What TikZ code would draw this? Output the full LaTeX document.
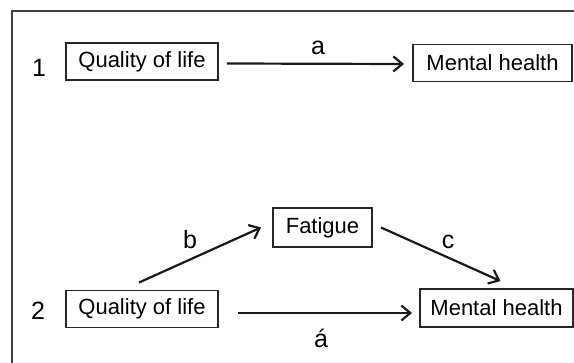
\documentclass[tikz,border=0pt]{standalone}
\usepackage{fontspec}
\setmainfont{Liberation Sans}
\usetikzlibrary{arrows.meta}
\begin{document}
\begin{tikzpicture}[x=1pt,y=-1pt,
  every node/.style={font=\fontsize{22}{24}\selectfont, inner sep=0pt},
  varbox/.style={draw=black!85, line width=1.9pt, minimum height=37pt},
  link/.style={line width=2.2pt, draw=black!90,
    -{Straight Barb[length=9pt,width=15pt,line width=2.2pt]}},
  tag/.style={text=black, font=\fontsize{25}{28}\selectfont},
  path label/.style={text=black, font=\fontsize{25}{28}\selectfont}]
  \useasboundingbox (0,0) rectangle (574,363);
  % outer frame, running past the page edge on the right and bottom
  \draw[line width=2.2pt, draw=black!75] (12,380) -- (12,11) -- (590,11);

  % model 1
  \node[tag] (n1) at (39,67.5) {1};
  \node[varbox, minimum width=152pt] (q1) at (142,61.5) {Quality of life};
  \node[varbox, minimum width=159pt] (m1) at (492.5,63) {Mental health};
  \draw[link] ([xshift=8pt,yshift=-2pt]q1.east) -- ([xshift=-8pt,yshift=-1pt]m1.west);
  \node[path label] (la) at (318,47.5) {a};

  % model 2
  \node[tag] (n2) at (38,311) {2};
  \node[varbox, minimum width=152pt] (q2) at (142,309) {Quality of life};
  \node[varbox, minimum width=99pt, minimum height=39pt] (f) at (322.5,227.5) {Fatigue};
  \node[varbox, minimum width=153pt, minimum height=38pt] (m2) at (496.5,308) {Mental health};
  \draw[link] ([xshift=-3pt,yshift=7pt]q2.north) -- ([xshift=-11pt]f.west);
  \draw[link] ([xshift=8pt]f.east) -- ([xshift=4pt,yshift=7pt]m2.north);
  \draw[link] ([xshift=19pt,yshift=-4pt]q2.east) -- ([xshift=-7pt,yshift=-5pt]m2.west);
  \node[path label] (lb) at (190,240) {b};
  \node[path label] (lc) at (448,242) {c};
  \node[path label] (la2) at (321,338) {á};
\end{tikzpicture}
\end{document}
